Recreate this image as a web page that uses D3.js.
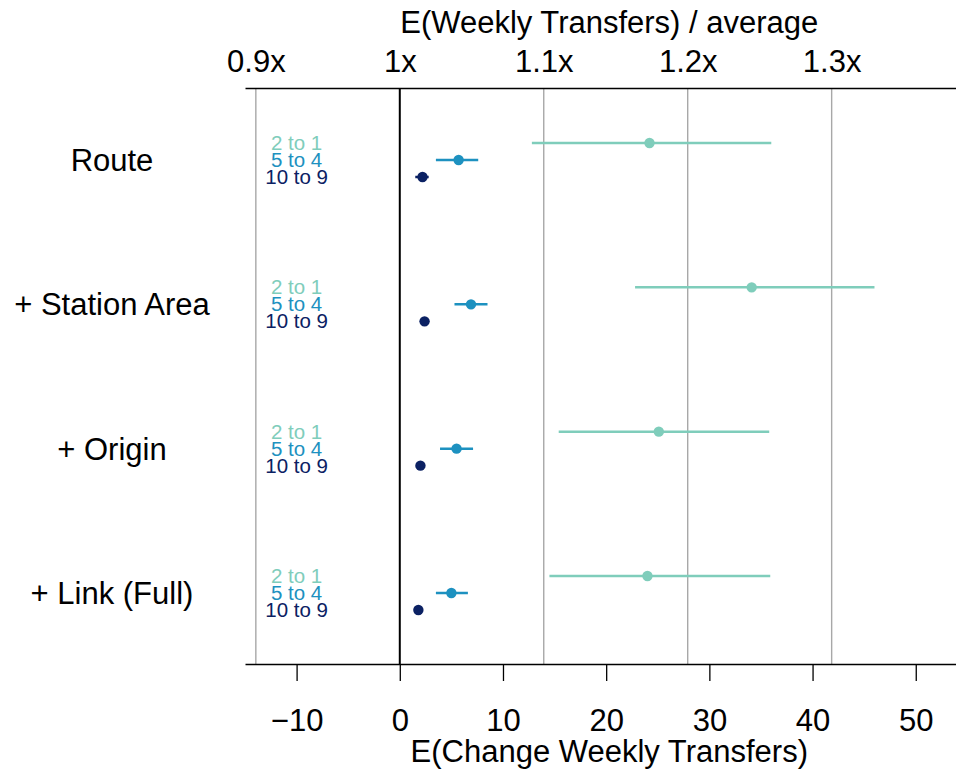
<!DOCTYPE html>
<html>
<head>
<meta charset="utf-8">
<script src="https://cdn.jsdelivr.net/npm/d3@7"></script>
<style>
  body { margin: 0; background: #fff; }
  text { font-family: "Liberation Sans", Arial, sans-serif; }
  .axis path, .axis line { stroke: #000; stroke-width: 1.3; }
  .axis text { font-size: 31px; fill: #000; }
</style>
</head>
<body>
<svg id="chart"></svg>
<script>
// Model specifications (rows, top to bottom)
const models = ['Route', '+ Station Area', '+ Origin', '+ Link (Full)'];
// Transfer contrasts inside each row
const contrasts = ['2 to 1', '5 to 4', '10 to 9'];
const colors = ['#7fcdbb', '#1d91c0', '#0b2163'];

// Point estimates and 95% intervals, one row per model, one column per contrast
const estimates = [
  [24.2, 5.7, 2.2],
  [34.1, 6.9, 2.4],
  [25.1, 5.5, 2.0],
  [24.0, 5.0, 1.8]
];
const lowers = [
  [12.8, 3.5, 1.5],
  [22.8, 5.3, 2.2],
  [15.4, 3.9, 1.8],
  [14.5, 3.5, 1.6]
];
const uppers = [
  [36.0, 7.6, 2.8],
  [46.0, 8.5, 2.6],
  [35.8, 7.1, 2.3],
  [35.9, 6.6, 2.0]
];

const changeTicks = [-10, 0, 10, 20, 30, 40, 50];
const ratioTicks = [0.9, 1.0, 1.1, 1.2, 1.3];
const averageTransfers = 139.5;

class ForestPlot {

  constructor(_config) {
    this.config = {
      parentElement: _config.parentElement,
      containerWidth: _config.containerWidth || 956,
      containerHeight: _config.containerHeight || 770,
      margin: _config.margin || {top: 88, right: 0, bottom: 106, left: 245}
    };
    this.initVis();
  }

  initVis() {
    let vis = this;
    vis.width = vis.config.containerWidth - vis.config.margin.left - vis.config.margin.right;
    vis.height = vis.config.containerHeight - vis.config.margin.top - vis.config.margin.bottom;

    vis.svg = d3.select(vis.config.parentElement)
        .attr('width', vis.config.containerWidth)
        .attr('height', vis.config.containerHeight);

    vis.chart = vis.svg.append('g')
        .attr('transform', `translate(${vis.config.margin.left},${vis.config.margin.top})`);

    // change in weekly transfers along the bottom
    vis.xScale = d3.scaleLinear()
        .domain([-15, 53.9])
        .range([0, vis.width]);

    // same axis expressed as a ratio to the average
    vis.ratioScale = d3.scaleLinear()
        .domain(vis.xScale.domain().map(v => 1 + v / averageTransfers))
        .range([0, vis.width]);

    vis.yScale = d3.scalePoint()
        .domain(models)
        .range([72, 505]);

    vis.offset = d3.scalePoint()
        .domain(contrasts)
        .range([-17, 17]);

    vis.colorScale = d3.scaleOrdinal().domain(contrasts).range(colors);

    vis.xAxis = d3.axisBottom(vis.xScale)
        .tickValues(changeTicks)
        .tickSize(17)
        .tickSizeOuter(0)
        .tickPadding(28);

    vis.ratioAxis = d3.axisTop(vis.ratioScale)
        .tickValues(ratioTicks)
        .tickSize(0)
        .tickPadding(16)
        .tickFormat(d => `${+d.toFixed(1)}x`);
  }

  updateVis() {
    let vis = this;
    vis.rows = [];
    models.forEach((m, i) => {
      contrasts.forEach((c, j) => {
        vis.rows.push({model: m, contrast: c, est: estimates[i][j], lo: lowers[i][j], hi: uppers[i][j]});
      });
    });
    vis.renderVis();
  }

  renderVis() {
    let vis = this;

    // vertical reference lines at each ratio tick, 1x in black
    vis.chart.selectAll('.grid')
        .data(ratioTicks)
      .join('line')
        .attr('class', 'grid')
        .attr('x1', d => vis.ratioScale(d))
        .attr('x2', d => vis.ratioScale(d))
        .attr('y1', 0)
        .attr('y2', vis.height)
        .attr('stroke', d => d === 1 ? '#000' : '#a8a8a8')
        .attr('stroke-width', d => d === 1 ? 2 : 1.4);

    vis.chart.append('g')
        .attr('class', 'axis x-axis')
        .attr('transform', `translate(0,${vis.height})`)
        .call(vis.xAxis);

    vis.chart.append('g')
        .attr('class', 'axis ratio-axis')
        .call(vis.ratioAxis);

    // axis titles
    vis.chart.append('text')
        .attr('x', vis.xScale(20.3))
        .attr('y', vis.height + 98)
        .attr('text-anchor', 'middle')
        .attr('font-size', 31)
        .text('E(Change Weekly Transfers)');

    vis.chart.append('text')
        .attr('x', vis.xScale(20.3))
        .attr('y', -55)
        .attr('text-anchor', 'middle')
        .attr('font-size', 31)
        .text('E(Weekly Transfers) / average');

    // model names on the left
    vis.svg.selectAll('.model-label')
        .data(models)
      .join('text')
        .attr('class', 'model-label')
        .attr('x', 112)
        .attr('y', d => vis.config.margin.top + vis.yScale(d) + 11)
        .attr('text-anchor', 'middle')
        .attr('font-size', 31)
        .text(d => d);

    // contrast labels inside each row
    vis.chart.selectAll('.contrast-label')
        .data(vis.rows)
      .join('text')
        .attr('class', 'contrast-label')
        .attr('x', vis.xScale(-10))
        .attr('y', d => vis.yScale(d.model) + vis.offset(d.contrast) + 7)
        .attr('text-anchor', 'middle')
        .attr('font-size', 20.5)
        .attr('fill', d => vis.colorScale(d.contrast))
        .text(d => d.contrast);

    vis.chart.selectAll('.ci')
        .data(vis.rows)
      .join('line')
        .attr('class', 'ci')
        .attr('x1', d => vis.xScale(d.lo))
        .attr('x2', d => vis.xScale(d.hi))
        .attr('y1', d => vis.yScale(d.model) + vis.offset(d.contrast))
        .attr('y2', d => vis.yScale(d.model) + vis.offset(d.contrast))
        .attr('stroke', d => vis.colorScale(d.contrast))
        .attr('stroke-width', 2.5);

    vis.chart.selectAll('.est')
        .data(vis.rows)
      .join('circle')
        .attr('class', 'est')
        .attr('cx', d => vis.xScale(d.est))
        .attr('cy', d => vis.yScale(d.model) + vis.offset(d.contrast))
        .attr('r', 5.2)
        .attr('fill', d => vis.colorScale(d.contrast));
  }
}

const plot = new ForestPlot({parentElement: '#chart'});
plot.updateVis();
</script>
</body>
</html>
